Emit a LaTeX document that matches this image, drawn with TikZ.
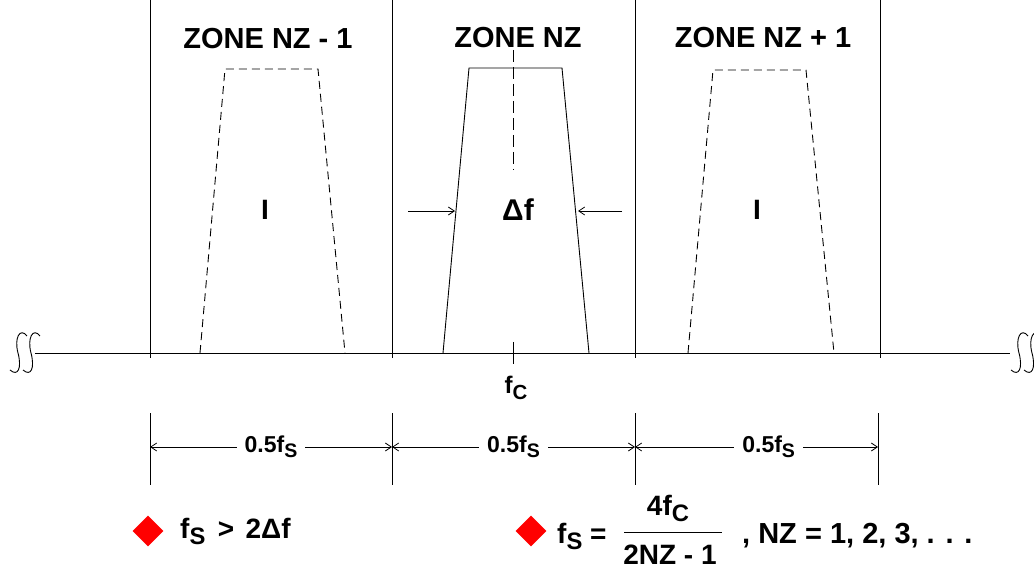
\documentclass[tikz,border=0pt]{standalone}
\usepackage{fontspec}
\setmainfont{Liberation Sans}
\usetikzlibrary{arrows.meta,shapes.geometric}
\newcommand{\lowS}[1]{\raisebox{-0.45ex}{\scalebox{0.85}{#1}}}
\begin{document}
\begin{tikzpicture}[x=1pt,y=-1pt,
  thin line/.style={line width=0.9pt,black},
  dashline/.style={line width=0.9pt,dash pattern=on 8pt off 5pt},
  dimarrow/.style={line width=0.8pt,{Straight Barb[length=6pt,width=8pt]}-{Straight Barb[length=6pt,width=8pt]}},
  onearrow/.style={line width=0.8pt,-{Straight Barb[length=6pt,width=8pt]}},
  zone/.style={font=\fontsize{29}{31}\selectfont\bfseries,inner sep=0pt},
  lbl/.style={font=\fontsize{28}{30}\selectfont\bfseries,inner sep=0pt},
  dimlbl/.style={font=\fontsize{23}{25}\selectfont\bfseries,fill=white,inner xsep=8pt,inner ysep=1pt},
  big/.style={font=\fontsize{28}{30}\selectfont\bfseries,inner sep=0pt,anchor=base west},
  diam/.style={diamond,fill=red,minimum width=31pt,minimum height=31pt,inner sep=0pt}]
\useasboundingbox (0,0) rectangle (1034,569);
% baseline
\coordinate (bl) at (35,353);
\coordinate (br) at (1010,353);
\draw[thin line] (bl) -- (br);
% squiggles
\foreach \x in {15,28}{
  \draw[line width=0.9pt] (\x+12,336) .. controls (\x+5,327) and (\x-1,338) .. (\x+3,353) .. controls (\x+7,368) and (\x+3,377) .. (\x-5,370);
}
\foreach \x in {1016,1029}{
  \draw[line width=0.9pt] (\x+12,336) .. controls (\x+5,327) and (\x-1,338) .. (\x+3,353) .. controls (\x+7,368) and (\x+3,377) .. (\x-5,370);
}
% zone boundaries
\foreach \n/\x in {a/150,b/392,c/635,d/880}{
  \coordinate (t\n) at (\x,0);
  \coordinate (m\n) at (\x,358);
  \draw[thin line] (t\n) -- (m\n);
}
% lower extension lines
\foreach \n/\x in {a/150,b/392,c/635,d/878}{
  \coordinate (u\n) at (\x,413);
  \coordinate (v\n) at (\x,485);
  \coordinate (w\n) at (\x,447);
  \draw[thin line] (u\n) -- (v\n);
}
% dimension arrows
\draw[dimarrow] (wa) -- node[dimlbl]{0.5f\lowS{S}} (wb);
\draw[dimarrow] (wb) -- node[dimlbl]{0.5f\lowS{S}} (wc);
\draw[dimarrow] (wc) -- node[dimlbl,pos=0.55]{0.5f\lowS{S}} (wd);
% zone labels
\node[zone] (z1) at (268,39) {ZONE NZ - 1};
\node[zone] (z2) at (518,38) {ZONE NZ};
\node[zone] (z3) at (763,38) {ZONE NZ + 1};
% left image (dashed)
\coordinate (l1) at (200,353); \coordinate (l2) at (225,69);
\coordinate (l3) at (318,69); \coordinate (l4) at (345,353);
\draw[dashline] (l1) -- (l2) -- (l3) -- (l4);
\node[lbl] (i1) at (265,210) {I};
% right image (dashed)
\coordinate (r1) at (688,353); \coordinate (r2) at (713,70);
\coordinate (r3) at (806,70); \coordinate (r4) at (834,353);
\draw[dashline] (r1) -- (r2) -- (r3) -- (r4);
\node[lbl] (i2) at (757,210) {I};
% center signal
\coordinate (c1) at (443,353); \coordinate (c2) at (469,68);
\coordinate (c3) at (562,68); \coordinate (c4) at (589,353);
\draw[thin line] (c1) -- (c2) -- (c3) -- (c4);
\coordinate (ct) at (513,50); \coordinate (cb) at (513,170);
\draw[line width=0.9pt,dash pattern=on 12pt off 5pt] (ct) -- (cb);
\node[lbl,font=\fontsize{30}{32}\selectfont\bfseries] (df) at (518,210) {Δf};
% width arrows
\coordinate (al) at (408,211); \coordinate (alh) at (455,211);
\coordinate (ar) at (622,211); \coordinate (arh) at (578,211);
\draw[onearrow] (al) -- (alh);
\draw[onearrow] (ar) -- (arh);
% fc tick
\coordinate (fct) at (513,342); \coordinate (fcb) at (513,364);
\draw[thin line] (fct) -- (fcb);
\node[font=\fontsize{24}{26}\selectfont\bfseries,inner sep=0pt] (fc) at (516,388) {f\lowS{C}};
% bottom formulas
\node[diam] (d1) at (148,531) {};
\node[big] (e1) at (180,538) {f\lowS{S}\hspace{0.45em}>\hspace{0.4em}2Δf};
\node[diam] (d2) at (531,531) {};
\node[big] (e2) at (557,543) {f\lowS{S} =};
\node[big,anchor=base] (num) at (668,515) {4f\lowS{C}};
\coordinate (fl) at (624,532); \coordinate (fr) at (722,532);
\draw[line width=0.8pt] (fl) -- (fr);
\node[big,anchor=base] (den) at (670,564) {2NZ - 1};
\node[big,font=\fontsize{29}{31}\selectfont\bfseries] (e3) at (742,543) {, NZ = 1, 2, 3, . . .};
\end{tikzpicture}
\end{document}
